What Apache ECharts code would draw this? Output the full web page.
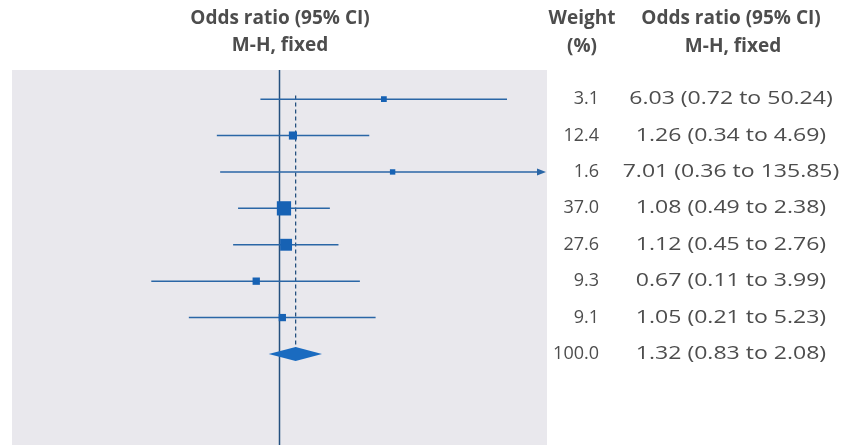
<!DOCTYPE html>
<html>
<head>
<meta charset="utf-8">
<script src="https://cdn.jsdelivr.net/npm/echarts@6/dist/echarts.min.js"></script>
<style>
  html, body { margin: 0; padding: 0; background: #ffffff; }
  #chart { width: 847px; height: 445px; }
</style>
</head>
<body>
<div id="chart"></div>
<script>
// Study rows (last row is the pooled Mantel-Haenszel estimate)
const weights    = [3.1, 12.4, 1.6, 37.0, 27.6, 9.3, 9.1, 100.0];
const oddsRatios = [6.03, 1.26, 7.01, 1.08, 1.12, 0.67, 1.05, 1.32];
const ciLower    = [0.72, 0.34, 0.36, 0.49, 0.45, 0.11, 0.21, 0.83];
const ciUpper    = [50.24, 4.69, 135.85, 2.38, 2.76, 3.99, 5.23, 2.08];
const pooledRow  = 7;

// Odds ratio axis (log scale) and header texts
const xMin = 0.01, xMax = 100;
const plotHeader   = ['Odds ratio (95% CI)', 'M-H, fixed'];
const weightHeader = ['Weight', '(%)'];
const orHeader     = ['Odds ratio (95% CI)', 'M-H, fixed'];

const rows = weights.map((w, i) => [i, oddsRatios[i], ciLower[i], ciUpper[i], w]);

const FONT = '"Open Sans", "Noto Sans", sans-serif';
const TEXT_COLOR = '#4d4d4d';
const LINE_COLOR = '#2a66a6';
const BOX_COLOR = '#1762b4';

function renderRow(params, api) {
  const i = api.value(0);
  const est = api.value(1);
  const lo = api.value(2);
  const hi = api.value(3);
  const w = api.value(4);
  const y = api.coord([1, i])[1];
  const xEst = api.coord([est, i])[0];
  const xLo = api.coord([Math.max(lo, xMin), i])[0];
  const xHi = api.coord([Math.min(hi, xMax), i])[0];
  const children = [];

  if (i === pooledRow) {
    const h = 7;
    children.push({
      type: 'polygon',
      shape: { points: [[xLo, y], [xEst, y - h], [xHi, y], [xEst, y + h]] },
      style: { fill: '#1a6bc0' }
    });
  } else {
    const clipped = hi > xMax;
    const lineEnd = clipped ? xHi - 8 : xHi;
    children.push({
      type: 'line',
      shape: { x1: xLo, y1: y, x2: lineEnd, y2: y },
      style: { stroke: LINE_COLOR, lineWidth: 1.5 }
    });
    if (clipped) {
      children.push({
        type: 'polygon',
        shape: { points: [[xHi - 10, y - 3.5], [xHi - 1, y], [xHi - 10, y + 3.5]] },
        style: { fill: LINE_COLOR }
      });
    }
    const s = 5 + w * 0.25;
    children.push({
      type: 'rect',
      shape: { x: xEst - s / 2, y: y - s / 2, width: s, height: s },
      style: { fill: BOX_COLOR }
    });
  }

  // Weight and odds ratio columns, aligned on the row
  children.push({
    type: 'text',
    x: 599, y: y,
    style: {
      x: 0, y: 0, text: w.toFixed(1),
      align: 'right', verticalAlign: 'middle',
      font: '18px ' + FONT, fill: TEXT_COLOR
    }
  });
  children.push({
    type: 'text',
    x: 731, y: y, scaleX: 1.28,
    style: {
      x: 0, y: 0,
      text: est.toFixed(2) + ' (' + lo.toFixed(2) + ' to ' + hi.toFixed(2) + ')',
      align: 'center', verticalAlign: 'middle',
      font: '18px ' + FONT, fill: TEXT_COLOR
    }
  });
  return { type: 'group', children: children };
}

function header(x, y, text) {
  return {
    type: 'text', x: x, y: y,
    style: {
      text: text, x: 0, y: 0, align: 'center', verticalAlign: 'middle',
      font: 'bold 19px ' + FONT, fill: TEXT_COLOR
    }
  };
}

const chart = echarts.init(document.getElementById('chart'), null, { renderer: 'canvas' });
chart.setOption({
  animation: false,
  backgroundColor: '#ffffff',
  grid: {
    left: 12, right: 300, top: 70, bottom: 0,
    show: true, backgroundColor: '#e9e8ed', borderWidth: 0
  },
  xAxis: {
    type: 'log', logBase: 10, min: xMin, max: xMax,
    axisLine: { show: false }, axisTick: { show: false },
    axisLabel: { show: false }, splitLine: { show: false }
  },
  yAxis: {
    type: 'value', inverse: true, min: -0.8, max: 9.5,
    axisLine: { show: false }, axisTick: { show: false },
    axisLabel: { show: false }, splitLine: { show: false }
  },
  graphic: [
    header(280, 19, plotHeader[0]),
    header(280, 46, plotHeader[1]),
    header(582, 19, weightHeader[0]),
    header(582, 47, weightHeader[1]),
    header(731, 19, orHeader[0]),
    header(733, 47, orHeader[1])
  ],
  series: [
    {
      // line of no effect
      type: 'line', silent: true, symbol: 'none',
      data: [[1, -0.8], [1, 9.5]],
      lineStyle: { color: '#24507f', width: 1.5 },
      z: 1
    },
    {
      // pooled estimate reference
      type: 'line', silent: true, symbol: 'none',
      data: [[oddsRatios[pooledRow], -0.1], [oddsRatios[pooledRow], pooledRow - 0.15]],
      lineStyle: { color: '#24507f', width: 1.3, type: [4, 3] },
      z: 1
    },
    {
      type: 'custom', silent: true, clip: false,
      renderItem: renderRow,
      encode: { x: 1, y: 0 },
      data: rows,
      z: 3
    }
  ]
});
</script>
</body>
</html>
